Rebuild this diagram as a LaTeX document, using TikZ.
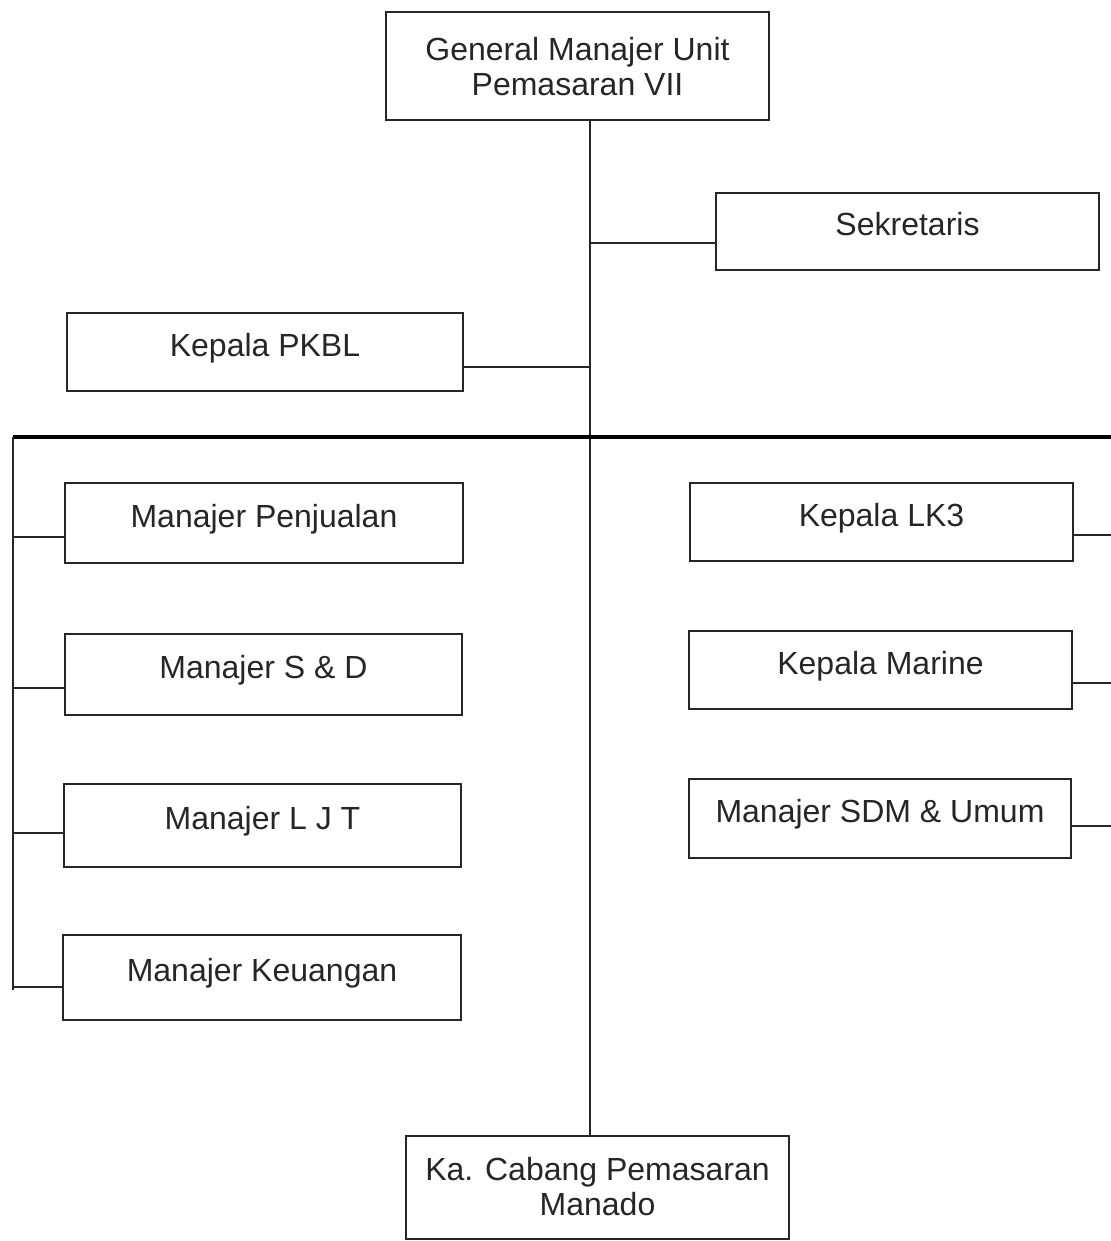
\documentclass[tikz,border=0pt]{standalone}
\usepackage{fontspec}
\setmainfont{Liberation Sans}
\begin{document}
\begin{tikzpicture}[x=0.5pt,y=-0.5pt,
  box/.style={draw=black!85,line width=1pt,inner sep=0pt,align=center,
    font=\fontsize{16}{17.5}\selectfont,text=black!85},
  sbox/.style={box,text height=12pt,text depth=8pt},
  ln/.style={draw=black!85,line width=1pt},
  thick line/.style={draw=black,line width=2pt}]
\useasboundingbox (0,0) rectangle (1111,1241);
% boxes
\node[box,minimum width=383pt*0.5,minimum height=108pt*0.5] (gm) at (577.5,66.5) {General Manajer Unit\\Pemasaran VII};
\node[sbox,minimum width=383pt*0.5,minimum height=77pt*0.5] (sek) at (907.5,231.5) {Sekretaris};
\node[sbox,minimum width=396pt*0.5,minimum height=78pt*0.5] (pkbl) at (265,352) {Kepala PKBL};
\node[sbox,minimum width=398pt*0.5,minimum height=80pt*0.5] (mp) at (264,523) {Manajer Penjualan};
\node[sbox,minimum width=397pt*0.5,minimum height=81pt*0.5] (msd) at (263.5,674.5) {Manajer S \& D};
\node[sbox,minimum width=397pt*0.5,minimum height=83pt*0.5] (mljt) at (262.5,825.5) {Manajer L J T};
\node[sbox,minimum width=398pt*0.5,minimum height=85pt*0.5] (mk) at (262,977.5) {Manajer Keuangan};
\node[sbox,minimum width=383pt*0.5,minimum height=78pt*0.5] (lk) at (881.5,522) {Kepala LK3};
\node[sbox,minimum width=383pt*0.5,minimum height=78pt*0.5] (km) at (880.5,670) {Kepala Marine};
\node[sbox,minimum width=382pt*0.5,minimum height=79pt*0.5] (sdm) at (880,818.5) {Manajer SDM \& Umum};
\node[box,minimum width=383pt*0.5,minimum height=103pt*0.5] (ka) at (597.5,1187) {Ka. Cabang Pemasaran\\Manado};
% coordinates
\coordinate (trunk) at (590,120);
\coordinate (hl) at (13,437);
\coordinate (hr) at (1111,437);
\coordinate (lb) at (13,990);
\coordinate (kat) at (590,1135);
% trunk
\draw[ln] (trunk) -- (kat);
\draw[ln] (sek.west |- 0,243) -- (trunk |- 0,243);
\draw[ln] (pkbl.east |- 0,367) -- (trunk |- 0,367);
% horizontal bar
\draw[thick line] (hl) -- (hr);
\draw[ln] (hl) -- (lb);
\foreach \n/\y in {mp/537,msd/688,mljt/833,mk/987} \draw[ln] (\n.west |- 0,\y) -- (hl |- 0,\y);
\foreach \n/\y in {lk/535,km/683,sdm/826} \draw[ln] (\n.east |- 0,\y) -- (hr |- 0,\y);
\end{tikzpicture}
\end{document}
